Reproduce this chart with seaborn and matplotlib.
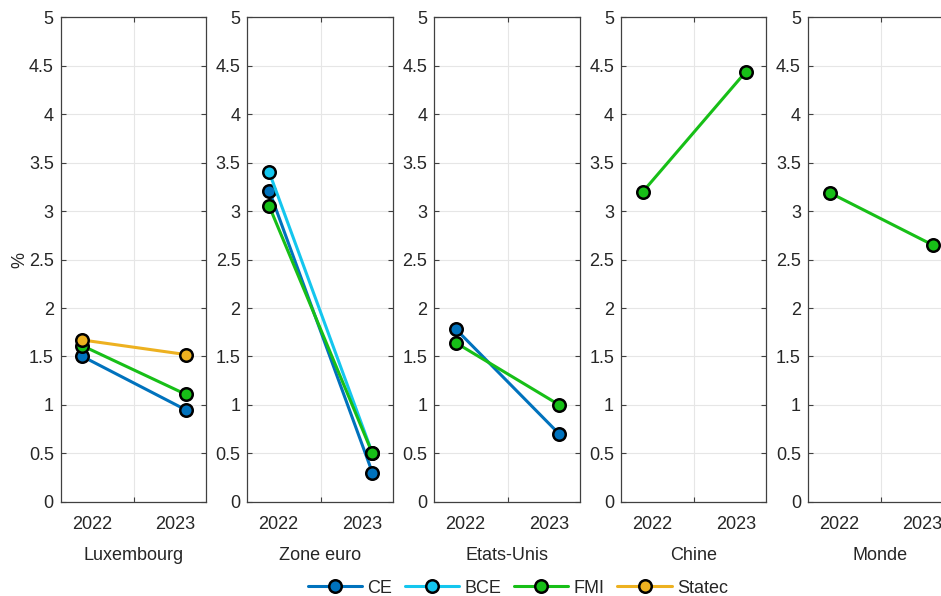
import pandas as pd
import matplotlib.pyplot as plt
import seaborn as sns
from matplotlib.lines import Line2D

sns.set_theme(style="whitegrid")
plt.rcParams["font.family"] = ["Liberation Sans", "DejaVu Sans"]

# data (% growth)
years = [2022, 2023]
year_labels = ["2022", "2023"]
countries = ["Luxembourg", "Zone euro", "Etats-Unis", "Chine", "Monde"]
sources = ["CE", "BCE", "FMI", "Statec"]

ce = {"Luxembourg": [1.50, 0.95], "Zone euro": [3.21, 0.30], "Etats-Unis": [1.78, 0.70]}
bce = {"Zone euro": [3.40, 0.50]}
fmi = {"Luxembourg": [1.61, 1.11], "Zone euro": [3.05, 0.50], "Etats-Unis": [1.64, 1.00],
       "Chine": [3.20, 4.44], "Monde": [3.19, 2.65]}
statec = {"Luxembourg": [1.67, 1.52]}

colors = {"CE": "#0072BD", "BCE": "#14C6EE", "FMI": "#17BF17", "Statec": "#EDB120"}

rows = []
for src, d in zip(sources, [ce, bce, fmi, statec]):
    for country, vals in d.items():
        for y, v in zip(years, vals):
            rows.append({"country": country, "source": src, "year": y, "value": v})
data = pd.DataFrame(rows)

fig = plt.figure(figsize=(9.41, 5.96), dpi=100)
spine_col = "#404040"
txt_col = "#262626"
fs = 13

for i, country in enumerate(countries):
    ax = fig.add_axes([0.0645 + i * 0.1985, 0.158, 0.1544, 0.813])
    sub = data[data["country"] == country]
    order = [s for s in sources if s in sub["source"].unique()]
    sns.lineplot(data=sub, x="year", y="value", hue="source", hue_order=order,
                 palette=colors, marker="o", markersize=9, markeredgecolor="black",
                 markeredgewidth=1.8, linewidth=2.2, legend=False, ax=ax, zorder=3)
    ax.set_xlim(2021.789, 2023.197)
    ax.set_ylim(0, 5)
    ax.set_yticks([0, 0.5, 1, 1.5, 2, 2.5, 3, 3.5, 4, 4.5, 5])
    ax.set_yticklabels(["0", "0.5", "1", "1.5", "2", "2.5", "3", "3.5", "4", "4.5", "5"])
    ax.set_xticks([2022.5])
    ax.set_xticklabels([""])
    ax.set_xticks([2022.09, 2022.9], labels=year_labels, minor=True)
    ax.tick_params(axis="x", which="minor", length=0, pad=10, labelsize=fs, colors=txt_col)
    ax.tick_params(axis="both", which="major", direction="in", length=3.5, width=0.8,
                   color=spine_col, top=True, right=True, bottom=True, left=True,
                   labelsize=fs, labelcolor=txt_col)
    ax.tick_params(axis="y", pad=5)
    ax.grid(True, which="major", color="#e6e6e6", linewidth=0.8)
    ax.grid(False, which="minor")
    ax.set_facecolor("white")
    for sp in ax.spines.values():
        sp.set_visible(True)
        sp.set_color(spine_col)
        sp.set_linewidth(0.9)
    ax.set_xlabel(country, fontsize=fs, color=txt_col, labelpad=10)
    if i == 0:
        ax.set_ylabel("%", fontsize=fs, color=txt_col, labelpad=0)
    else:
        ax.set_ylabel("")

handles = [Line2D([0], [0], color=colors[s], linewidth=2.2, marker="o", markersize=9,
                  markerfacecolor=colors[s], markeredgecolor="black", markeredgewidth=1.8)
           for s in sources]
fig.legend(handles, sources, loc="center", bbox_to_anchor=(0.5505, 0.0134), ncol=4,
           frameon=False, fontsize=fs, handlelength=3.0, handletextpad=0.3,
           columnspacing=0.7, labelcolor=txt_col)

fig.savefig("out.png", dpi=100)
